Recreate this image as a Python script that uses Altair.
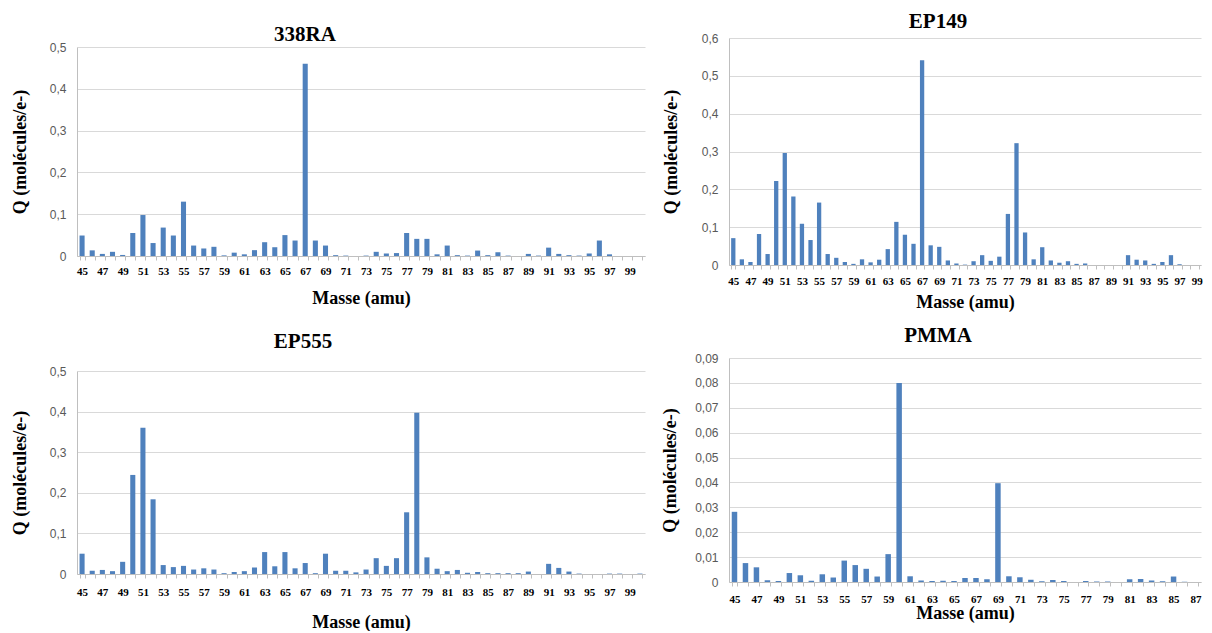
import altair as alt
import pandas as pd

BLUE = "#4f81bd"
SERIF = "Liberation Serif"
SANS = "Liberation Sans"

# ---- data ----
mass_338ra = list(range(45, 101))
q_338ra = [0.049, 0.0135, 0.005, 0.010, 0.0025, 0.055, 0.098, 0.031, 0.068, 0.049,
           0.130, 0.025, 0.018, 0.022, 0.0015, 0.008, 0.004, 0.014, 0.033, 0.021,
           0.050, 0.037, 0.460, 0.037, 0.025, 0.002, 0.001, 0.0, 0.001, 0.010,
           0.006, 0.007, 0.055, 0.041, 0.041, 0.004, 0.025, 0.002, 0.001, 0.013,
           0.002, 0.009, 0.001, 0.0, 0.005, 0.001, 0.020, 0.005, 0.002, 0.001,
           0.006, 0.037, 0.004, 0.0, 0.0, 0.0]

mass_ep149 = list(range(45, 100))
q_ep149 = [0.071, 0.015, 0.008, 0.082, 0.029, 0.222, 0.296, 0.181, 0.109, 0.066,
           0.165, 0.029, 0.019, 0.008, 0.003, 0.015, 0.007, 0.014, 0.042, 0.114,
           0.080, 0.056, 0.541, 0.052, 0.048, 0.012, 0.004, 0.001, 0.010, 0.026,
           0.011, 0.022, 0.135, 0.322, 0.086, 0.015, 0.047, 0.012, 0.006, 0.010,
           0.003, 0.004, 0.0, 0.0, 0.0, 0.0, 0.026, 0.014, 0.012, 0.003,
           0.008, 0.026, 0.002, 0.0, 0.0]

mass_ep555 = list(range(45, 101))
q_ep555 = [0.050, 0.008, 0.010, 0.007, 0.030, 0.244, 0.360, 0.184, 0.022, 0.017,
           0.020, 0.011, 0.014, 0.011, 0.002, 0.005, 0.007, 0.016, 0.054, 0.019,
           0.054, 0.014, 0.027, 0.002, 0.050, 0.008, 0.008, 0.004, 0.011, 0.039,
           0.020, 0.039, 0.152, 0.397, 0.041, 0.013, 0.007, 0.010, 0.003, 0.005,
           0.002, 0.002, 0.002, 0.002, 0.006, 0.0, 0.025, 0.015, 0.006, 0.001,
           0.0, 0.0, 0.001, 0.001, 0.0, 0.001]

mass_pmma = list(range(45, 88))
q_pmma = [0.0282, 0.0076, 0.0059, 0.0007, 0.0004, 0.0036, 0.0027, 0.0005, 0.0031, 0.0018,
          0.0086, 0.0068, 0.0053, 0.0022, 0.0112, 0.0800, 0.0023, 0.0006, 0.0004, 0.0005,
          0.0004, 0.0016, 0.0016, 0.0011, 0.0397, 0.0023, 0.0019, 0.0009, 0.0003, 0.0008,
          0.0004, 0.0, 0.0004, 0.0002, 0.0002, 0.0, 0.0011, 0.0012, 0.0006, 0.0003,
          0.0022, 0.0001, 0.0]

Y_TITLE = "Q (molécules/e-)"
X_TITLE = "Masse (amu)"


def panel(title, masses, values, ymax, ystep, decimals, width, height,
          title_dx, title_offset, y_title_pad, x_label_pad, x_title_pad, top_gap=0):
    df = pd.DataFrame({"Masse": masses, "Q": values})
    n = int(round(ymax / ystep))
    yvals = [round(i * ystep, 4) for i in range(n + 1)]
    ylabel = ("datum.value == 0 ? '0' : replace(format(datum.value, '.%df'), '.', ',')"
              % decimals)
    yscale = dict(domain=[0, ymax], nice=False, zero=True)
    if top_gap:
        yscale["range"] = [height, top_gap]
    return alt.Chart(df).mark_bar(color=BLUE).encode(
        x=alt.X("Masse:O",
                scale=alt.Scale(paddingInner=0.5, paddingOuter=0.25),
                axis=alt.Axis(title=X_TITLE, labelAngle=0, labelOverlap=False,
                              labelExpr="datum.value % 2 == 1 ? datum.label : ''",
                              labelFont=SERIF, labelFontWeight="bold", labelFontSize=11,
                              labelColor="#000000", labelPadding=x_label_pad,
                              tickBand="extent", tickSize=4, tickColor="#bfbfbf",
                              domainColor="#bfbfbf", grid=False,
                              titleFont=SERIF, titleFontWeight="bold", titleFontSize=18,
                              titleColor="#000000", titlePadding=x_title_pad)),
        y=alt.Y("Q:Q",
                scale=alt.Scale(**yscale),
                axis=alt.Axis(title=Y_TITLE, values=yvals, labelExpr=ylabel,
                              labelFont=SANS, labelFontSize=12, labelColor="#595959",
                              labelPadding=11, tickSize=0, domainColor="#bfbfbf",
                              gridColor="#d9d9d9",
                              titleFont=SERIF, titleFontWeight="bold", titleFontSize=18,
                              titleColor="#000000", titlePadding=y_title_pad)),
    ).properties(
        width=width, height=height,
        title=alt.TitleParams(text=title, font=SERIF, fontWeight="bold", fontSize=21,
                              color="#000000", anchor="middle", dx=title_dx,
                              offset=title_offset),
    )


tl = panel("338RA", mass_338ra, q_338ra, 0.5, 0.1, 1, 568, 218,
           -56, -7, 20, 5, 13, top_gap=9)
bl = panel("EP555", mass_ep555, q_ep555, 0.5, 0.1, 1, 568, 203,
           -58, 13, 20, 8, 16)
tr = panel("EP149", mass_ep149, q_ep149, 0.6, 0.1, 1, 472, 227,
           -27, 0, 21, 6, 7)
br = panel("PMMA", mass_pmma, q_pmma, 0.09, 0.01, 2, 472, 224,
           -27, 6, 15, 7, 0)

left_col = alt.vconcat(tl, bl, spacing=24)
right_col = alt.vconcat(tr, br, spacing=14)

chart = alt.hconcat(left_col, right_col, spacing=16).properties(
    padding={"left": 3, "top": 3, "right": 0, "bottom": 0},
    background="#ffffff",
).configure_view(stroke=None)

chart.save("out.html", embed_options={"renderer": "svg", "actions": False})
